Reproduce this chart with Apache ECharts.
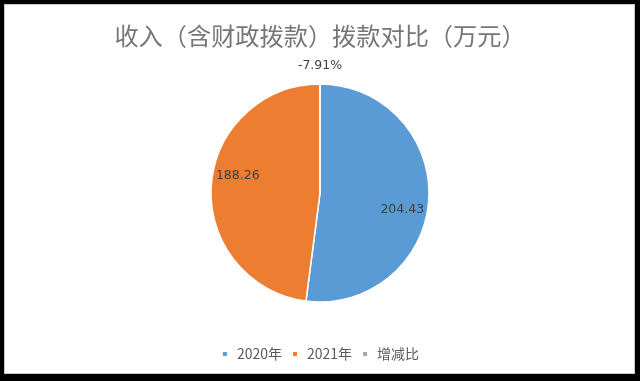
<!DOCTYPE html>
<html>
<head>
<meta charset="utf-8">
<script src="https://cdn.jsdelivr.net/npm/echarts@6/dist/echarts.min.js"></script>
<style>
html,body{margin:0;padding:0;background:#000;width:640px;height:381px;overflow:hidden;}
#frame{position:absolute;left:4px;top:4px;width:631px;height:370px;background:#fff;border:1px solid #c8c8c8;box-sizing:border-box;}
#chart{position:absolute;left:0;top:0;width:640px;height:381px;}
</style>
</head>
<body>
<div id="frame"></div>
<div id="chart"></div>
<script>
const titleText = '收入（含财政拨款）拨款对比（万元）';
const categories = ['2020年', '2021年', '增减比'];
const values = [204.43, 188.26, -7.91];
const labelSuffix = ['', '', '%'];
const colors = ['#5B9BD5', '#ED7D31', '#A5A5A5'];

const font = '"Noto Sans CJK SC", "Noto Sans", sans-serif';
const chart = echarts.init(document.getElementById('chart'), null, {renderer: 'canvas'});

function pieData(showIdx) {
  return categories.map((name, i) => ({
    name: name,
    value: Math.max(values[i], 0),
    raw: values[i],
    label: {show: showIdx.indexOf(i) >= 0}
  }));
}
const labelFmt = p => p.data.raw.toFixed(2) + labelSuffix[p.dataIndex];
const labelStyle = {color: '#404040', fontSize: 12.5, fontFamily: '"DejaVu Sans", sans-serif'};

chart.setOption({
  animation: false,
  backgroundColor: 'transparent',
  color: colors,
  textStyle: {fontFamily: font},
  title: {
    text: titleText,
    left: 'center',
    top: 19,
    textStyle: {fontSize: 24.2, fontWeight: 'normal', color: '#767676', fontFamily: font}
  },
  legend: {
    data: categories,
    left: 'center',
    top: 342,
    icon: 'rect',
    itemWidth: 6,
    itemHeight: 6,
    itemGap: 9,
    selectedMode: false,
    textStyle: {fontSize: 14, color: '#595959', fontFamily: font, padding: [0, 0, 0, 4]}
  },
  series: [
    {
      type: 'pie',
      center: [320, 193],
      radius: [0, 109],
      startAngle: 90,
      clockwise: true,
      silent: true,
      label: {show: false},
      labelLine: {show: false},
      itemStyle: {borderColor: '#fff', borderWidth: 1.5},
      data: pieData([])
    },
    {
      type: 'pie',
      center: [320, 193],
      radius: [54, 108],
      startAngle: 82,
      clockwise: true,
      silent: true,
      itemStyle: {color: 'rgba(0,0,0,0)'},
      label: Object.assign({position: 'inside', formatter: labelFmt}, labelStyle),
      labelLine: {show: false},
      data: pieData([0, 1])
    },
    {
      type: 'pie',
      center: [320, 193],
      radius: [118, 130],
      startAngle: 90,
      clockwise: true,
      silent: true,
      itemStyle: {color: 'rgba(0,0,0,0)'},
      label: Object.assign({position: 'inside', formatter: labelFmt}, labelStyle),
      labelLine: {show: false},
      data: pieData([2])
    }
  ]
});
</script>
</body>
</html>
